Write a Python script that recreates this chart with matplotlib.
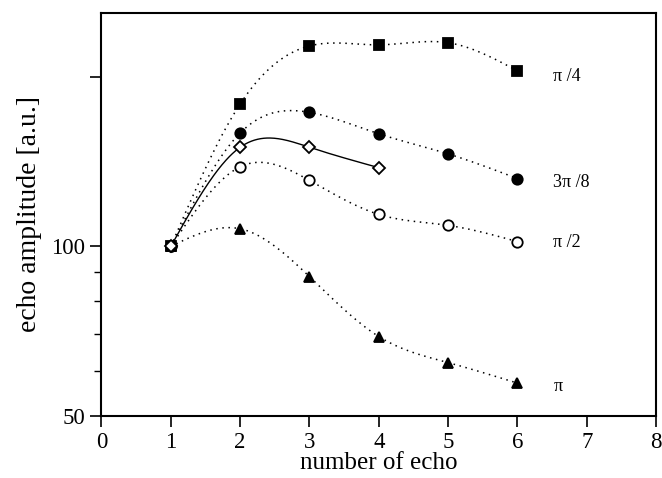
import numpy as np
import matplotlib
matplotlib.use("Agg")
import matplotlib.pyplot as plt
from matplotlib.ticker import FixedLocator, NullFormatter

plt.rcParams['font.family'] = ['Liberation Serif', 'DejaVu Serif']

# echo number and amplitudes for each refocusing angle
echo = [1, 2, 3, 4, 5, 6]
amp_pi4 = [100, 179, 227, 228, 230, 205]
amp_3pi8 = [100, 159, 173, 158.5, 146, 132]
amp_pi2 = [100, 138.5, 131, 114, 109, 102]
amp_pi = [100, 107.5, 88.4, 69.2, 62.2, 57.2]
echo_diamond = [1, 2, 3, 4]
amp_diamond = [100, 150, 150, 138]

labels = ['π /4', '3π /8', 'π /2', 'π']
label_y = [200, 130, 101.5, 56.5]


def spline(x, y, n=200):
    # natural cubic spline through the points (in log y), only for the smooth connecting curve
    x = np.asarray(x, float)
    y = np.log(np.asarray(y, float))
    m = len(x)
    h = np.diff(x)
    A = np.zeros((m, m))
    b = np.zeros(m)
    A[0, 0] = A[-1, -1] = 1
    for i in range(1, m - 1):
        A[i, i - 1] = h[i - 1]
        A[i, i] = 2 * (h[i - 1] + h[i])
        A[i, i + 1] = h[i]
        b[i] = 6 * ((y[i + 1] - y[i]) / h[i] - (y[i] - y[i - 1]) / h[i - 1])
    M = np.linalg.solve(A, b)
    xs = np.linspace(x[0], x[-1], n)
    idx = np.clip(np.searchsorted(x, xs) - 1, 0, m - 2)
    x0, x1 = x[idx], x[idx + 1]
    hh = x1 - x0
    t0, t1 = x1 - xs, xs - x0
    ys = (M[idx] * t0**3 + M[idx + 1] * t1**3) / (6 * hh) \
        + (y[idx] / hh - M[idx] * hh / 6) * t0 + (y[idx + 1] / hh - M[idx + 1] * hh / 6) * t1
    return xs, np.exp(ys)


fig = plt.figure(figsize=(6.62, 4.78), dpi=100)
ax = fig.add_axes([0.1533, 0.1297, 0.8377, 0.8437])
ax.set_yscale('log')

dot = (0, (1, 3))
series = [
    (echo, amp_pi4, 's', 'black', dot),
    (echo, amp_3pi8, 'o', 'black', dot),
    (echo, amp_pi2, 'o', 'white', dot),
    (echo, amp_pi, '^', 'black', dot),
]
for x, y, mk, fc, ls in series:
    xs, ys = spline(x, y)
    ax.plot(xs, ys, color='black', linestyle=ls, linewidth=1.1)
    ax.plot(x, y, linestyle='none', marker=mk, markersize=7.5 if mk != 's' else 7,
            markerfacecolor=fc, markeredgecolor='black', markeredgewidth=1.3)

xs, ys = spline(echo_diamond, amp_diamond)
ax.plot(xs, ys, color='black', linewidth=1.0)
ax.plot(echo_diamond, amp_diamond, linestyle='none', marker='D', markersize=6.5,
        markerfacecolor='white', markeredgecolor='black', markeredgewidth=1.3)

for lab, ly in zip(labels, label_y):
    ax.text(6.52, ly, lab, fontsize=13, ha='left', va='center')

ax.set_xlim(0, 8)
ax.set_ylim(50, 260)
ax.set_xticks(range(9))
ax.yaxis.set_major_locator(FixedLocator([50, 100, 200]))
ax.set_yticklabels(['50', '100', ''])
ax.yaxis.set_minor_locator(FixedLocator([60, 70, 80, 90]))
ax.yaxis.set_minor_formatter(NullFormatter())

ax.tick_params(axis='both', which='major', direction='out', length=8, width=1.2,
               labelsize=16.5, top=False, right=False)
ax.tick_params(axis='y', which='minor', direction='out', length=5, width=1.0, right=False)
for s in ax.spines.values():
    s.set_linewidth(1.5)

ax.set_xlabel('number of echo', fontsize=18, labelpad=-1)
ax.set_ylabel('echo amplitude [a.u.]', fontsize=20, labelpad=7)

fig.savefig('out.png', dpi=100)
